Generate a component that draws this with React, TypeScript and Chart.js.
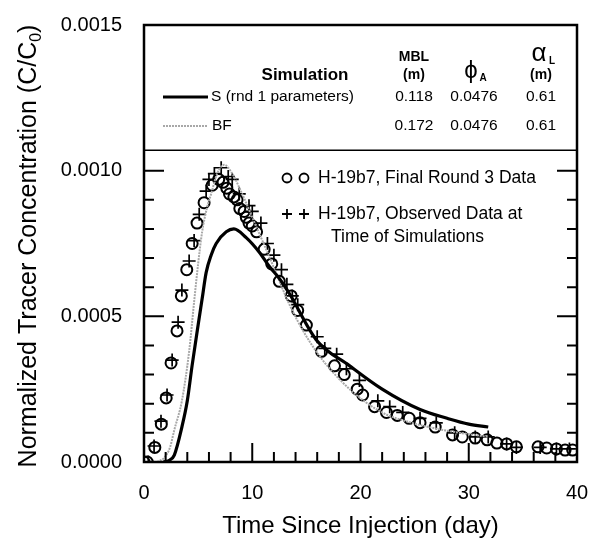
import React, { useEffect, useRef } from 'react';
import { Chart, registerables } from 'chart.js';
Chart.register(...registerables);

const FONT = '"Liberation Sans", Arial, Helvetica, sans-serif';

// H-19b7, Final Round 3 Data (circles)
const round3X = [0, 0.3, 1.0, 1.6, 2.05, 2.5, 3.05, 3.45, 3.95, 4.45, 4.9, 5.55, 6.3, 6.9, 7.3, 7.65, 7.9, 8.3, 8.6, 8.85, 9.25, 9.45, 9.7, 10.0, 10.4, 11.1, 11.8, 12.5, 13.6, 14.2, 15.0, 16.4, 17.6, 18.5, 19.7, 20.2, 21.3, 22.4, 23.4, 24.5, 25.5, 26.9, 28.5, 29.4, 30.6, 31.7, 32.6, 33.5, 34.4, 36.4, 37.2, 38.1, 38.9, 39.6];
const round3Y = [0, 0, 0.00005, 0.00013, 0.00022, 0.00034, 0.00045, 0.00057, 0.00066, 0.00075, 0.00082, 0.00089, 0.00095, 0.00097, 0.00096, 0.00094, 0.00092, 0.00091, 0.0009, 0.00087, 0.00086, 0.00084, 0.00082, 0.00081, 0.00079, 0.00073, 0.00068, 0.00062, 0.00057, 0.00052, 0.00047, 0.00038, 0.00033, 0.0003, 0.00025, 0.00023, 0.00019, 0.00017, 0.00016, 0.00015, 0.000135, 0.00012, 0.000093, 0.000086, 0.000082, 0.000076, 0.000065, 0.000062, 0.000052, 0.000052, 0.000048, 0.000045, 0.000041, 0.000041];

// H-19b7, Observed Data at Time of Simulations (pluses)
const observedX = [0, 0.4, 0.93, 1.57, 2.13, 2.6, 3.15, 3.5, 4.17, 4.63, 5.1, 5.74, 6.0, 6.5, 7.13, 7.78, 8.15, 8.8, 9.7, 10.0, 10.8, 11.4, 12.0, 12.7, 13.2, 13.7, 14.2, 16.0, 16.7, 17.8, 18.7, 19.9, 21.6, 22.7, 23.9, 25.5, 27.0, 28.7, 30.6, 31.8, 33.5, 34.4, 36.6, 38.1, 39.3];
const observedY = [0, 0, 0.000055, 0.00014, 0.00023, 0.00035, 0.00048, 0.00059, 0.00069, 0.00076, 0.00085, 0.00093, 0.00097, 0.00099, 0.00101, 0.00098, 0.00097, 0.00092, 0.00088, 0.00086, 0.00082, 0.00075, 0.00071, 0.00066, 0.00061, 0.00057, 0.00054, 0.00043, 0.00039, 0.00037, 0.00032, 0.00028, 0.00021, 0.00019, 0.00017, 0.00015, 0.000134, 0.0001, 0.000086, 0.000086, 0.000062, 0.00005, 0.00005, 0.000045, 0.000045];

// Simulation S (rnd 1 parameters)
const simSX = [1.8, 2.3, 2.8, 3.5, 4.0, 4.44, 5.0, 5.37, 5.74, 6.2, 6.67, 7.6, 8.3, 9.44, 10.65, 11.6, 12.5, 13.4, 15.9, 19.0, 22.0, 25.5, 28.0, 30.0, 31.8];
const simSY = [0, 0.000005, 0.000024, 0.00012, 0.00021, 0.00033, 0.00047, 0.00056, 0.00065, 0.00071, 0.00075, 0.00079, 0.0008, 0.00077, 0.00072, 0.00067, 0.00063, 0.00058, 0.00042, 0.00033, 0.00025, 0.00018, 0.00015, 0.00013, 0.00012];

// Simulation BF
const simBFX = [1.2, 1.85, 2.4, 2.8, 3.5, 4.17, 4.63, 5.0, 5.37, 5.8, 6.2, 6.76, 7.4, 8.15, 9.07, 10.0, 11.4, 13.7, 15.9, 19.0, 22.0, 24.5, 27.6, 31.8];
const simBFY = [0, 0.000014, 0.00005, 0.00011, 0.00021, 0.00038, 0.00055, 0.00068, 0.00079, 0.00087, 0.00092, 0.00099, 0.00102, 0.00099, 0.00092, 0.00084, 0.00072, 0.00052, 0.00038, 0.00025, 0.00017, 0.000137, 0.00011, 0.000086];

const xTickLabels = [0, 10, 20, 30, 40];
const yTickLabels = ['0.0000', '0.0005', '0.0010', '0.0015'];

const tableHeader = ['Simulation', 'MBL', '(m)'];
const tableRows = [
  { name: 'S (rnd 1 parameters)', mbl: '0.118', phi: '0.0476', alpha: '0.61' },
  { name: 'BF', mbl: '0.172', phi: '0.0476', alpha: '0.61' },
];

const pts = (xs: number[], ys: number[]) => xs.map((x, i) => ({ x, y: ys[i] }));

const decorPlugin = {
  id: 'decor',
  afterDraw(chart: any) {
    const ctx = chart.ctx;
    const ca = chart.chartArea;
    const xs = chart.scales.x;
    const ys = chart.scales.y;
    ctx.save();
    ctx.strokeStyle = '#000';
    ctx.lineWidth = 2;
    for (let v = 2; v < 40; v += 2) {
      const px = xs.getPixelForValue(v);
      const len = v % 10 === 0 ? 19 : 10;
      ctx.beginPath();
      ctx.moveTo(px, ca.bottom);
      ctx.lineTo(px, ca.bottom - len);
      ctx.stroke();
    }
    for (let i = 1; i <= 10; i++) {
      const v = i * 0.0001;
      const py = ys.getPixelForValue(v);
      const len = i % 5 === 0 ? 20 : 10;
      ctx.beginPath();
      ctx.moveTo(ca.left, py);
      ctx.lineTo(ca.left + len, py);
      ctx.moveTo(ca.right, py);
      ctx.lineTo(ca.right - len, py);
      ctx.stroke();
    }
    const boxBottom = ys.getPixelForValue(0.00107);
    ctx.fillStyle = '#fff';
    ctx.fillRect(ca.left, ca.top, ca.right - ca.left, boxBottom - ca.top);
    ctx.lineWidth = 1.5;
    ctx.beginPath();
    ctx.moveTo(ca.left, boxBottom);
    ctx.lineTo(ca.right, boxBottom);
    ctx.stroke();
    ctx.lineWidth = 2.5;
    ctx.strokeRect(ca.left, ca.top, ca.right - ca.left, ca.bottom - ca.top);

    const L = ca.left, T = ca.top;
    ctx.fillStyle = '#000';
    ctx.textBaseline = 'middle';
    ctx.textAlign = 'center';
    ctx.font = `bold 17px ${FONT}`;
    ctx.fillText(tableHeader[0], L + 161, T + 50);
    ctx.font = `bold 14px ${FONT}`;
    ctx.fillText(tableHeader[1], L + 270, T + 32);
    ctx.fillText(tableHeader[2], L + 270, T + 50);
    ctx.fillText(tableHeader[2], L + 397, T + 50);
    ctx.font = `24px ${FONT}`;
    ctx.fillText('\u03D5', L + 327, T + 46);
    ctx.font = `bold 10px ${FONT}`;
    ctx.fillText('A', L + 339, T + 53);
    ctx.font = `26px ${FONT}`;
    ctx.fillText('\u03B1', L + 395, T + 29);
    ctx.font = `bold 10px ${FONT}`;
    ctx.fillText('L', L + 408, T + 36);

    const rowY = [T + 72, T + 101];
    ctx.font = `15.5px ${FONT}`;
    tableRows.forEach((r, i) => {
      const y = rowY[i];
      ctx.textAlign = 'left';
      ctx.fillText(r.name, L + (i === 0 ? 67 : 68), y);
      ctx.textAlign = 'center';
      ctx.fillText(r.mbl, L + 270, y);
      ctx.fillText(r.phi, L + 330, y);
      ctx.fillText(r.alpha, L + 397, y);
    });
    ctx.strokeStyle = '#000';
    ctx.lineWidth = 3;
    ctx.beginPath();
    ctx.moveTo(L + 19, rowY[0]);
    ctx.lineTo(L + 64, rowY[0]);
    ctx.stroke();
    ctx.strokeStyle = '#a8a8a8';
    ctx.lineWidth = 2;
    ctx.setLineDash([2, 1]);
    ctx.beginPath();
    ctx.moveTo(L + 19, rowY[1]);
    ctx.lineTo(L + 64, rowY[1]);
    ctx.stroke();
    ctx.setLineDash([]);

    ctx.strokeStyle = '#000';
    ctx.lineWidth = 1.8;
    const ly1 = 178, ly2 = 214, ly3 = 237;
    [287, 304].forEach((cx) => {
      ctx.beginPath();
      ctx.arc(cx, ly1, 4.5, 0, Math.PI * 2);
      ctx.stroke();
      ctx.beginPath();
      ctx.moveTo(cx - 5, ly2);
      ctx.lineTo(cx + 5, ly2);
      ctx.moveTo(cx, ly2 - 5);
      ctx.lineTo(cx, ly2 + 5);
      ctx.stroke();
    });
    ctx.font = `17.5px ${FONT}`;
    ctx.textAlign = 'left';
    ctx.fillText('H-19b7, Final Round 3 Data', 318, ly1);
    ctx.fillText('H-19b7, Observed Data at', 318, ly2);
    ctx.fillText('Time of Simulations', 331, ly3);

    // y axis title with subscript
    ctx.save();
    ctx.translate(19, 246);
    ctx.rotate(-Math.PI / 2);
    const main = 'Normalized Tracer Concentration (C/C';
    ctx.font = `25px ${FONT}`;
    const w1 = ctx.measureText(main).width;
    ctx.font = `16px ${FONT}`;
    const w2 = ctx.measureText('0').width;
    ctx.font = `25px ${FONT}`;
    const w3 = ctx.measureText(')').width;
    const total = w1 + w2 + w3;
    const x0 = -total / 2;
    ctx.textAlign = 'left';
    ctx.textBaseline = 'alphabetic';
    ctx.fillText(main, x0, 17);
    ctx.font = `16px ${FONT}`;
    ctx.fillText('0', x0 + w1, 22);
    ctx.font = `25px ${FONT}`;
    ctx.fillText(')', x0 + w1 + w2, 17);
    ctx.restore();

    ctx.restore();
  },
};

export default function App() {
  const ref = useRef<HTMLCanvasElement | null>(null);
  useEffect(() => {
    if (!ref.current) return;
    const chart = new Chart(ref.current, {
      type: 'scatter',
      data: {
        datasets: [
          {
            label: 'S (rnd 1 parameters)',
            data: pts(simSX, simSY),
            showLine: true,
            borderColor: '#000',
            borderWidth: 3.2,
            pointRadius: 0,
            cubicInterpolationMode: 'monotone',
          },
          {
            label: 'BF',
            data: pts(simBFX, simBFY),
            showLine: true,
            borderColor: '#a8a8a8',
            borderWidth: 2,
            borderDash: [2, 1],
            pointRadius: 0,
            cubicInterpolationMode: 'monotone',
          },
          {
            label: 'H-19b7, Final Round 3 Data',
            data: pts(round3X, round3Y),
            showLine: false,
            pointStyle: 'circle',
            pointRadius: 5.5,
            pointBorderWidth: 2,
            pointBorderColor: '#000',
            pointBackgroundColor: 'rgba(255,255,255,0)',
          },
          {
            label: 'H-19b7, Observed Data at Time of Simulations',
            data: pts(observedX, observedY),
            showLine: false,
            pointStyle: 'cross',
            pointRadius: 6.5,
            pointBorderWidth: 1.7,
            pointBorderColor: '#000',
          },
        ],
      } as any,
      options: {
        animation: false,
        responsive: false,
        maintainAspectRatio: false,
        layout: { padding: { top: 25, right: 14, left: 0, bottom: 0 } },
        plugins: { legend: { display: false }, tooltip: { enabled: false } },
        scales: {
          x: {
            type: 'linear',
            min: 0,
            max: 40,
            afterBuildTicks: (s: any) => {
              s.ticks = xTickLabels.map((v) => ({ value: v }));
            },
            ticks: {
              font: { family: FONT, size: 20 },
              color: '#000',
              padding: 19,
              maxRotation: 0,
              autoSkip: false,
            },
            grid: { display: false, drawTicks: false },
            border: { display: false },
            title: {
              display: true,
              text: 'Time Since Injection (day)',
              font: { family: FONT, size: 24 },
              color: '#000',
              padding: { top: 4, bottom: 8 },
            },
            afterFit: (s: any) => {
              s.height = 87;
              s.paddingLeft = 0;
              s.paddingRight = 0;
            },
          },
          y: {
            type: 'linear',
            min: 0,
            max: 0.0015,
            afterBuildTicks: (s: any) => {
              s.ticks = yTickLabels.map((t) => ({ value: parseFloat(t) }));
            },
            ticks: {
              font: { family: FONT, size: 20 },
              color: '#000',
              padding: 22,
              autoSkip: false,
              callback: (v: any) => Number(v).toFixed(4),
            },
            grid: { display: false, drawTicks: false },
            border: { display: false },
            afterFit: (s: any) => {
              s.width = 144;
              s.paddingTop = 0;
              s.paddingBottom = 0;
            },
          },
        },
      } as any,
      plugins: [decorPlugin],
    });
    return () => chart.destroy();
  }, []);
  return (
    <div style={{ position: 'absolute', left: 0, top: 0, width: 591, height: 549, background: '#fff' }}>
      <canvas ref={ref} width={591} height={549} style={{ width: 591, height: 549 }} />
    </div>
  );
}
